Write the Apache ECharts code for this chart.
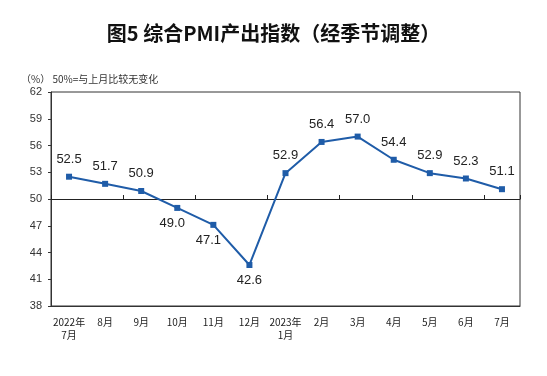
<!DOCTYPE html>
<html><head><meta charset="utf-8">
<script src="https://cdn.jsdelivr.net/npm/echarts@6/dist/echarts.min.js"></script>
<style>html,body{margin:0;padding:0;background:#fff}#c{width:547px;height:376px}</style>
</head><body><div id="c"></div>
<script>
const categories = ['2022年\n7月','8月','9月','10月','11月','12月','2023年\n1月','2月','3月','4月','5月','6月','7月'];
const values = [52.5,51.7,50.9,49.0,47.1,42.6,52.9,56.4,57.0,54.4,52.9,52.3,51.1];
const yTicks = [38,41,44,47,50,53,56,59,62];
const belowIdx = [3,4,5];

const chart = echarts.init(document.getElementById('c'));
const data = values.map((v,i)=>{
  const o = {value:v};
  if (belowIdx.includes(i)) {
    o.label = {position:'bottom', distance:6, offset: i===5 ? [0,0] : [-5,0]};
  }
  return o;
});
chart.setOption({
  animation:false,
  title:[{text:'图5 综合PMI产出指数（经季节调整）', left:'center', top:18,
    textStyle:{fontFamily:'Noto Sans CJK SC', fontSize:20, fontWeight:'bold', color:'#111'}},
    {text:'（%） 50%=与上月比较无变化', left:16, top:69,
    textStyle:{fontFamily:'Noto Sans CJK SC', fontSize:10, fontWeight:'normal', color:'#333'}}],
  grid:{left:51, right:27, top:92, bottom:70, show:true, borderColor:'#333', borderWidth:1},
  xAxis:[{type:'category', data:categories, boundaryGap:true, position:'bottom',
    axisLine:{show:true, lineStyle:{color:'#333'}}, axisTick:{show:false},
    axisLabel:{fontFamily:'Noto Sans CJK SC', fontSize:10, color:'#222', margin:10, lineHeight:13, interval:0}},
    {type:'category', data:categories, boundaryGap:true, position:'bottom', offset:-107,
    axisLine:{show:true, lineStyle:{color:'#222'}}, axisTick:{show:true, inside:true, length:4, lineStyle:{color:'#222'}},
    axisLabel:{show:false}}],
  yAxis:{type:'value', min:yTicks[0], max:yTicks[yTicks.length-1], interval:3,
    axisLine:{show:true, lineStyle:{color:'#333'}}, axisTick:{show:true, length:3, lineStyle:{color:'#333'}},
    splitLine:{show:false},
    axisLabel:{fontFamily:'Liberation Sans', fontSize:11, color:'#333', margin:9}},
  series:[{type:'line', data:data, xAxisIndex:0, symbol:'rect', symbolSize:6,
    lineStyle:{color:'#1f5ca8', width:2}, itemStyle:{color:'#1f5ca8'},
    label:{show:true, position:'top', distance:8, fontFamily:'Liberation Sans', fontSize:13, color:'#222',
      formatter:p=>p.value.toFixed(1)}}]
});
</script></body></html>
